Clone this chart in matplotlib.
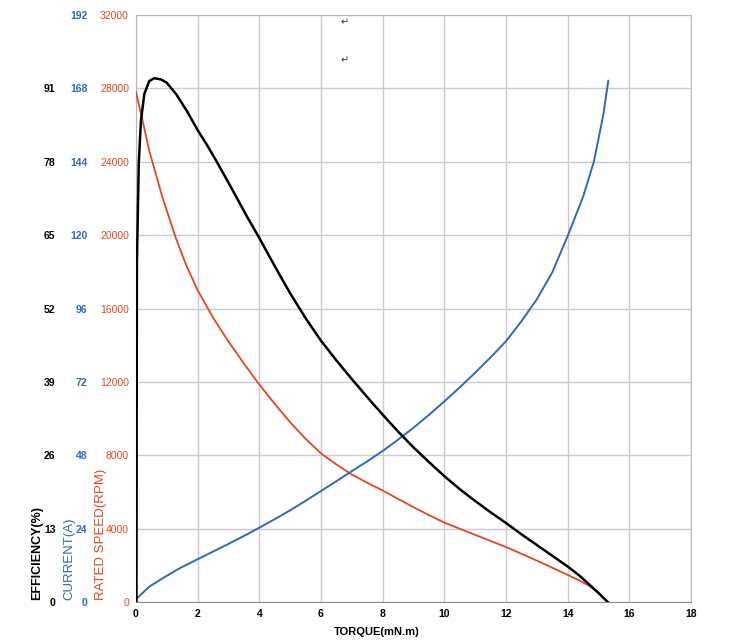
import matplotlib
matplotlib.use('Agg')
import matplotlib.pyplot as plt

plt.rcParams['font.family'] = ['Liberation Sans', 'DejaVu Sans']

# Data (torque in mN.m)
speed_torque = [0.0, 0.22, 0.43, 0.86, 1.29, 1.62, 2.0, 2.5, 3.0, 3.5, 4.0, 4.5, 5.0, 5.5, 6.0, 6.5, 7.0, 7.5,
                8.0, 8.5, 9.0, 9.5, 10.0, 11.0, 12.0, 13.0, 14.0, 14.4, 14.7, 15.0, 15.3]
speed_rpm = [27800, 26200, 24600, 22050, 19860, 18400, 17000, 15500, 14200, 13000, 11850, 10800, 9800, 8900,
             8100, 7500, 6950, 6500, 6080, 5620, 5170, 4740, 4330, 3660, 3000, 2260, 1480, 1160, 880, 520, 0]

eff_torque = [0.015, 0.03, 0.09, 0.16, 0.27, 0.43, 0.59, 0.8, 1.0, 1.3, 1.65, 2.0, 2.3, 2.6, 3.0, 3.25, 3.6,
              4.0, 4.38, 4.76, 5.0, 5.5, 6.0, 6.5, 7.0, 7.5, 8.0, 8.5, 9.0, 9.5, 10.0, 10.5, 11.0, 11.5, 12.0,
              12.5, 13.0, 13.5, 14.0, 14.4, 14.7, 15.0, 15.3]
eff_pct = [0, 60, 77.6, 85.2, 90.0, 92.3, 92.8, 92.6, 92.0, 90.0, 87.0, 83.6, 81.0, 78.2, 74.3, 71.8, 68.3,
           64.5, 60.7, 57.0, 54.7, 50.3, 46.3, 42.8, 39.5, 36.3, 33.2, 30.2, 27.4, 24.8, 22.3, 20.0, 17.9, 15.9,
           14.0, 12.0, 10.1, 8.2, 6.3, 4.6, 3.1, 1.6, 0]

cur_torque = [0.0, 0.43, 0.87, 1.41, 2.0, 2.5, 3.0, 3.5, 4.0, 4.5, 5.0, 5.5, 6.0, 6.5, 7.0, 7.5, 8.0, 8.5, 9.0,
              9.5, 10.0, 10.5, 11.0, 11.5, 12.0, 12.5, 13.0, 13.5, 14.0, 14.5, 14.85, 15.15, 15.32]
cur_amp = [0.9, 5.0, 7.8, 11.0, 14.0, 16.5, 19.0, 21.6, 24.3, 27.1, 30.0, 33.1, 36.3, 39.5, 42.8, 46.0, 49.4,
           53.1, 57.0, 61.2, 65.6, 70.2, 75.0, 80.0, 85.3, 91.8, 99.0, 107.8, 119.7, 132.5, 144.0, 159.0, 170.5]

x_ticks = [0, 2, 4, 6, 8, 10, 12, 14, 16, 18]
rpm_ticks = [0, 4000, 8000, 12000, 16000, 20000, 24000, 28000, 32000]
cur_ticks = [0, 24, 48, 72, 96, 120, 144, 168, 192]
eff_ticks = [0, 13, 26, 39, 52, 65, 78, 91]

red = '#e2471f'
blue = '#2f68bf'
grid_c = '#cacad6'

fig = plt.figure(figsize=(7.5, 6.44), dpi=100, facecolor='white')
ax = fig.add_axes([0.1813, 0.0652, 0.74, 0.9115])
ax_cur = ax.twinx()
ax_eff = ax.twinx()

ax.set_xlim(0, 18)
ax.set_ylim(0, 32000)
ax_cur.set_ylim(0, 192)
ax_eff.set_ylim(0, 104)

ax.set_xticks(x_ticks)
ax.set_xticklabels([str(t) for t in x_ticks], fontsize=7.5, fontweight='bold')
ax.set_yticks(rpm_ticks)
ax.set_yticklabels([str(t) for t in rpm_ticks], fontsize=7.5, color=red)
ax.tick_params(axis='both', length=0)
ax.tick_params(axis='y', pad=5)
ax.tick_params(axis='x', pad=5)
ax.grid(True, color=grid_c, linewidth=1.0)
ax.set_axisbelow(True)
for s in ax.spines.values():
    s.set_color('#b8b8c4')
ax.spines['bottom'].set_color('#8a8a9a')

# efficiency and current scales sit to the left of the speed scale
for a, ticks, col, pad in [(ax_cur, cur_ticks, blue, 35), (ax_eff, eff_ticks, 'black', 58)]:
    a.yaxis.set_ticks_position('left')
    a.set_yticks(ticks)
    a.set_yticklabels([str(t) for t in ticks], fontsize=7.5, color=col, fontweight='bold')
    a.tick_params(axis='y', length=0, pad=pad)
    for s in a.spines.values():
        s.set_visible(False)

ax.plot(speed_torque, speed_rpm, color=red, linewidth=1.3, zorder=3)
ax_cur.plot(cur_torque, cur_amp, color=blue, linewidth=1.4, zorder=3)
ax_eff.plot(eff_torque, eff_pct, color='black', linewidth=1.8, zorder=4)

# axis titles
fig.text(0.049, 0.068, 'EFFICIENCY(%)', rotation=90, ha='center', va='bottom',
         fontsize=9, fontweight='bold', color='black')
fig.text(0.093, 0.068, 'CURRENT(A)', rotation=90, ha='center', va='bottom',
         fontsize=9.5, color=blue)
fig.text(0.135, 0.068, 'RATED SPEED(RPM)', rotation=90, ha='center', va='bottom',
         fontsize=9.5, color=red)
fig.text(0.503, 0.018, 'TORQUE(mN.m)', ha='center', va='center',
         fontsize=8, fontweight='bold', color='black')

# stray return marks in the original image
fig.text(0.46, 0.966, '\u21b5', ha='center', va='center', fontsize=7, color='#333333', family=['DejaVu Sans'])
fig.text(0.46, 0.906, '\u21b5', ha='center', va='center', fontsize=7, color='#333333', family=['DejaVu Sans'])

fig.savefig('out.png', dpi=100, facecolor='white')
